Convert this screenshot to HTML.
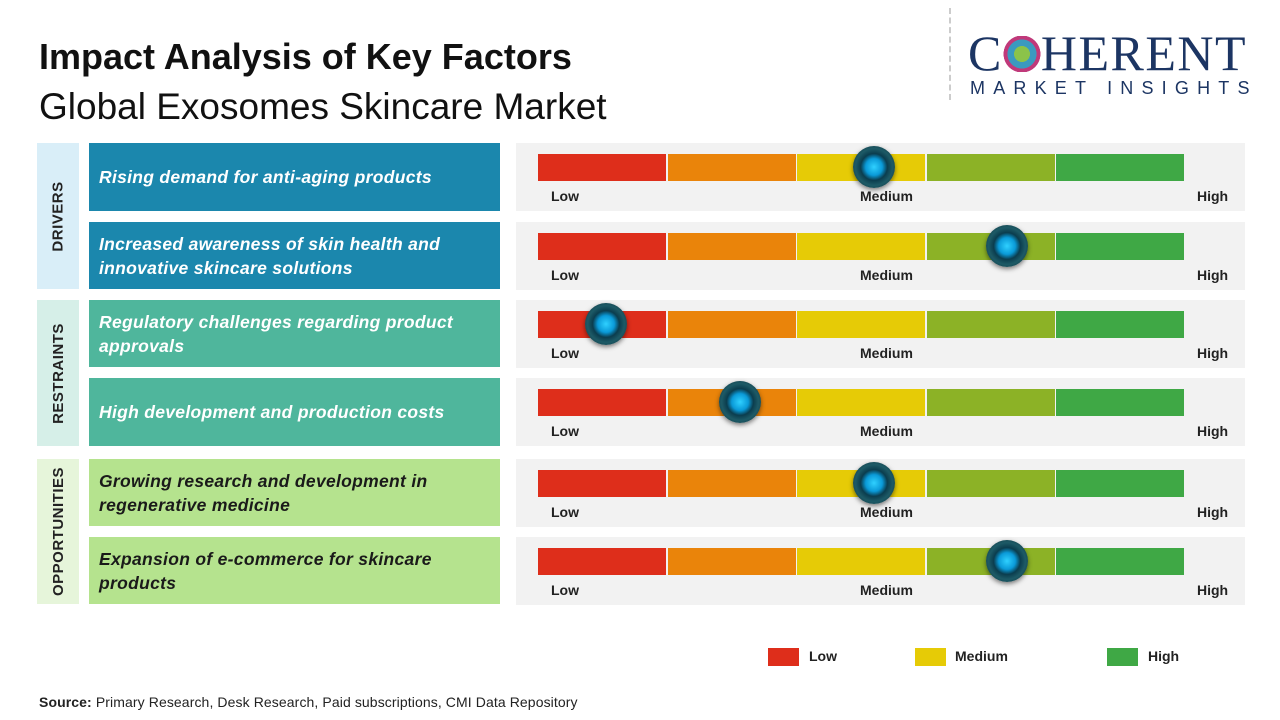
<!DOCTYPE html>
<html><head><meta charset="utf-8"><style>
*{margin:0;padding:0;box-sizing:border-box}
body{width:1280px;height:720px;background:#fff;position:relative;overflow:hidden;font-family:"Liberation Sans","DejaVu Sans",sans-serif}
.abs{position:absolute}
.t1{left:39px;top:36px;font-size:36px;font-weight:bold;color:#111}
.t2{left:39px;top:86px;font-size:37px;color:#111}
.sec{left:37px;width:42px;display:flex;align-items:center;justify-content:center}
.sec span{transform:rotate(-90deg);white-space:nowrap;font-weight:bold;font-size:15px;color:#222;letter-spacing:.5px}
.box{left:89px;width:411px;display:flex;align-items:center;padding-left:10px;font-style:italic;font-weight:bold;font-size:17.5px;line-height:24px;letter-spacing:.3px}
.panel{left:516px;width:729px;background:#f2f2f2}
.seg{position:absolute;top:11px;height:27px;width:128px}
.lbl{position:absolute;top:45px;font-size:14px;font-weight:bold;color:#222}
.knob{position:absolute;top:3px;width:42px;height:42px;border-radius:50%;background:radial-gradient(circle at 50% 50%,#2fd0ff 0,#0a9ad8 28%,#0b3d4e 45%,#1d5a66 62%,#0c2a33 100%);box-shadow:0 2px 5px rgba(0,0,0,.5)}
.leg{top:648px;width:31px;height:18px}
.legt{top:648px;font-size:14px;font-weight:bold;color:#222}
</style></head><body>
<div class="abs t1">Impact Analysis of Key Factors</div>
<div class="abs t2">Global Exosomes Skincare Market</div>
<div class="abs" style="left:949px;top:8px;height:92px;border-left:2px dashed #ccc"></div>
<div class="abs" style="left:968px;top:28px;font-family:'Liberation Serif',serif;font-size:50px;color:#1c3563;letter-spacing:1.5px;line-height:50px">C<span style="display:inline-block;width:38px;height:36px;vertical-align:-2px;background:radial-gradient(circle,#8bc34a 0 30%,#3a9ac0 31% 55%,#c0397a 56% 70%,transparent 71%)"></span>HERENT</div>
<div class="abs" style="left:970px;top:78px;font-size:18px;color:#1c3563;letter-spacing:8.2px">MARKET INSIGHTS</div>

<div class="abs sec" style="top:143px;height:146px;background:#d9eef8"><span>DRIVERS</span></div>
<div class="abs sec" style="top:300px;height:146px;background:#d6efe8"><span>RESTRAINTS</span></div>
<div class="abs sec" style="top:459px;height:145px;background:#e6f5da"><span>OPPORTUNITIES</span></div>

<div class="abs box" style="top:143px;height:68px;background:#1b87ad;color:#fff">Rising demand for anti-aging products</div>
<div class="abs box" style="top:222px;height:67px;background:#1b87ad;color:#fff">Increased awareness of skin health and<br>innovative skincare solutions</div>
<div class="abs box" style="top:300px;height:67px;background:#4fb69c;color:#fff">Regulatory challenges regarding product<br>approvals</div>
<div class="abs box" style="top:378px;height:68px;background:#4fb69c;color:#fff">High development and production costs</div>
<div class="abs box" style="top:459px;height:67px;background:#b5e38e;color:#1a1a1a">Growing research and development in<br>regenerative medicine</div>
<div class="abs box" style="top:537px;height:67px;background:#b5e38e;color:#1a1a1a">Expansion of e-commerce for skincare<br>products</div>

<div id="panels"></div>
<script>
var tops=[143,222,300,378,459,537],kx=[874,1007,606,740,874,1007],cols=['#de2e1b','#ea840a','#e6cb06','#8cb226','#3fa845'];
var h='';
for(var i=0;i<6;i++){h+='<div class="abs panel" style="top:'+tops[i]+'px;height:68px">';
for(var j=0;j<5;j++)h+='<div class="seg" style="left:'+(22+j*129.6)+'px;background:'+cols[j]+'"></div>';
h+='<div class="lbl" style="left:35px">Low</div><div class="lbl" style="left:344px">Medium</div><div class="lbl" style="left:681px">High</div>';
h+='<div class="knob" style="left:'+(kx[i]-516-21)+'px"></div></div>';}
document.getElementById('panels').innerHTML=h;
</script>

<div class="abs leg" style="left:768px;background:#de2e1b"></div><div class="abs legt" style="left:809px">Low</div>
<div class="abs leg" style="left:915px;background:#e6cb06"></div><div class="abs legt" style="left:955px">Medium</div>
<div class="abs leg" style="left:1107px;background:#3fa845"></div><div class="abs legt" style="left:1148px">High</div>
<div class="abs" style="left:39px;top:694px;font-size:14px;color:#222;letter-spacing:.1px"><b>Source:</b> Primary Research, Desk Research, Paid subscriptions, CMI Data Repository</div>
</body></html>
